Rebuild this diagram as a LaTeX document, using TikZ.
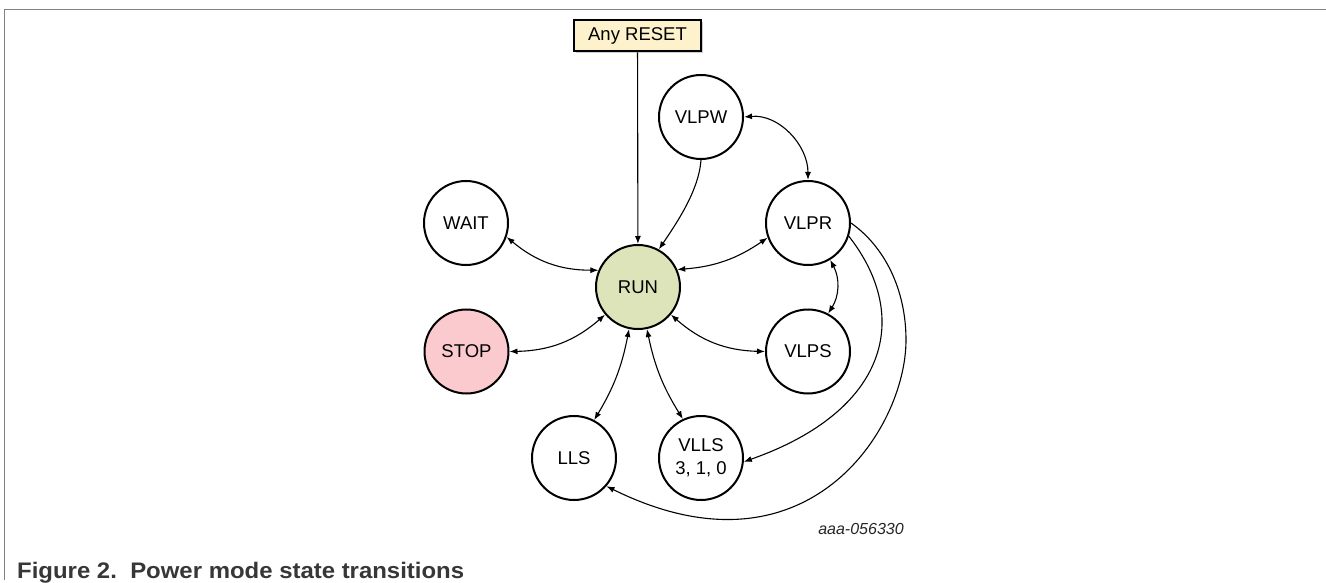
\documentclass[tikz,border=0pt]{standalone}
\usepackage{fontspec}
\setmainfont{Liberation Sans}
\usetikzlibrary{arrows.meta,shadows}

\definecolor{runfill}{RGB}{221,228,185}
\definecolor{stopfill}{RGB}{250,202,207}
\definecolor{resetfill}{RGB}{253,242,203}
\definecolor{framegray}{RGB}{130,130,130}
\definecolor{captiongray}{RGB}{55,55,55}

\begin{document}
\begin{tikzpicture}[x=1pt,y=1pt,
  state/.style={circle, draw=black, line width=2pt, minimum size=84pt, inner sep=0pt,
    font=\fontsize{18.5}{23}\selectfont, align=center, fill=white},
  resetbox/.style={draw=black, line width=2pt, fill=resetfill, minimum width=127pt,
    minimum height=31pt, inner sep=0pt, font=\fontsize{18.5}{23}\selectfont,
    drop shadow={shadow xshift=1.5pt, shadow yshift=-1.5pt, fill=black!40}},
  tip/.tip={Latex[length=8pt,width=6pt]},
  link/.style={line width=1.1pt, -tip},
  both/.style={line width=1.1pt, tip-tip},
]
\useasboundingbox (0,0) rectangle (1326,-583);

% frame lines (top and left)
\draw[framegray, line width=1.2pt] (4.5,-580) -- (4.5,-9.3) -- (1326,-9.3);

% states
\node[resetbox] (reset) at (637.5,-36) {Any RESET};
\node[state] (vlpw) at (701,-117) {VLPW};
\node[state] (wait) at (466,-223) {WAIT};
\node[state] (vlpr) at (808,-223) {VLPR};
\node[state, fill=runfill] (run) at (638,-287) {RUN};
\node[state, fill=stopfill] (stop) at (466.5,-351.5) {STOP};
\node[state] (vlps) at (808,-351.5) {VLPS};
\node[state] (lls) at (574,-458) {LLS};
\node[state] (vlls) at (701,-458) {VLLS\\3, 1, 0};

% transitions
\draw[link] (reset) -- (run);
\draw[link] (vlpw.south) to[out=266,in=56,looseness=0.8] (run.61);
\draw[both] (vlpw.east) to[out=5,in=90] (vlpr.north);
\draw[both] (run.24) to[bend right=15] (vlpr.200);
\draw[both] (wait.-19) to[bend right=20] (run.157);
\draw[both] (stop.0) to[bend right=20] (run.220);
\draw[both] (run.320) to[bend right=20] (vlps.180);
\draw[both] (run.258) to[bend left=10] (lls.62);
\draw[both] (run.282) to[bend right=10] (vlls.115);
\draw[both] (vlpr.301) to[bend left=30] (vlps.62);
\draw[link] (vlpr.-18) .. controls (912,-317) and (888,-411) .. (vlls.-5);
\draw[link] (vlpr.east) .. controls (885,-247) and (906,-290) .. (906,-340)
  .. controls (906,-430) and (806,-585) .. (lls.-41);

% labels
\node[font=\fontsize{16}{19}\selectfont\itshape, text=black!85] (code) at (861,-529) {aaa-056330};
\node[anchor=base west, font=\fontsize{22.5}{26}\selectfont\bfseries, text=captiongray, inner sep=0pt]
  (caption) at (17,-578) {\scalebox{1.064}[1]{Figure 2.\ \ Power mode state transitions}};
\end{tikzpicture}
\end{document}
